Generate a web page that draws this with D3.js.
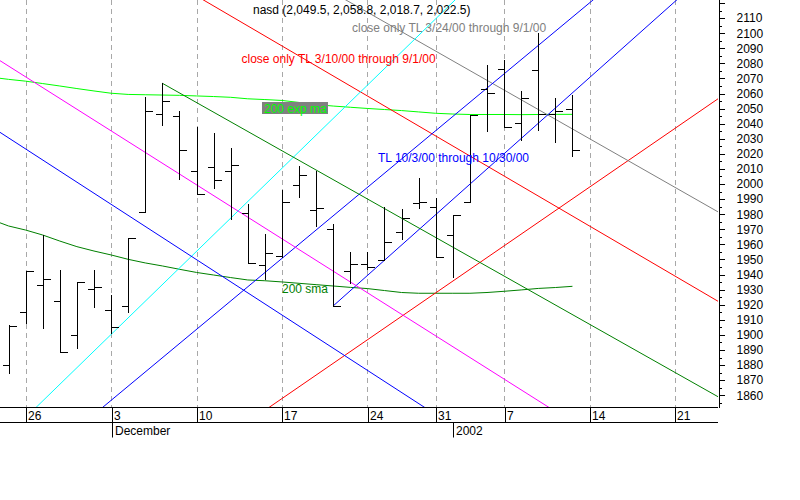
<!DOCTYPE html>
<html><head><meta charset="utf-8">
<script src="https://cdn.jsdelivr.net/npm/d3@7"></script>
<style>
body{margin:0;background:#fff}
svg{display:block}
text{font-family:Arial,"Liberation Sans",sans-serif;font-size:12px}
</style>
</head><body><svg id="c" width="800" height="500"></svg>
<script>
// ---------- data ----------
const days = ["2001-11-21","2001-11-23","2001-11-26","2001-11-27","2001-11-28","2001-11-29","2001-11-30",
"2001-12-03","2001-12-04","2001-12-05","2001-12-06","2001-12-07","2001-12-10","2001-12-11","2001-12-12","2001-12-13","2001-12-14",
"2001-12-17","2001-12-18","2001-12-19","2001-12-20","2001-12-21","2001-12-24","2001-12-26","2001-12-27","2001-12-28","2001-12-31",
"2002-01-02","2002-01-03","2002-01-04","2002-01-07","2002-01-08","2002-01-09","2002-01-10","2002-01-11",
"2002-01-14","2002-01-15","2002-01-16","2002-01-17","2002-01-18","2002-01-21","2002-01-22","2002-01-23","2002-01-24","2002-01-25"];

const barDates = days.slice(1, 35);
const opens  = [1880.0,1915.4,1933.1,1922.7,1899.7,1930.2,1916.5,1919.2,1981.3,2046.4,2044.9,2008.6,2011.1,2008.6,1980.6,1946.3,1952.3,1999.4,1982.6,1970.0,1942.4,1947.0,1949.6,1968.4,1987.2,1985.0,1966.0,1987.9,2062.8,2076.3,2040.3,2075.6,2046.2,2049.5];
const highs  = [1906.6,1942.4,1966.2,1943.0,1934.9,1943.0,1926.4,1964.0,2057.9,2066.8,2048.2,2037.6,2033.8,2023.7,1986.8,1966.9,1996.0,2011.9,2008.8,1973.5,1955.1,1955.1,1984.6,1983.3,2003.8,1990.5,1979.5,2045.8,2078.9,2082.2,2061.7,2099.9,2056.8,2058.8];
const lows   = [1874.9,1908.1,1904.4,1888.5,1891.1,1918.3,1901.1,1915.4,1981.3,2038.9,2003.5,1993.2,1997.2,1976.8,1947.5,1936.9,1951.8,1991.6,1972.2,1919.2,1934.2,1943.7,1949.6,1963.4,1983.9,1951.4,1938.2,1987.9,2035.4,2037.6,2029.2,2035.8,2027.7,2018.7];
const closes = [1905.9,1942.4,1937.1,1888.5,1934.9,1931.5,1905.4,1964.0,2048.2,2054.8,2022.4,1993.2,2002.7,2012.4,1947.5,1954.1,1988.3,2006.0,1983.9,1919.2,1946.8,1945.2,1961.8,1977.3,1988.3,1951.4,1979.5,2045.8,2060.5,2037.6,2056.8,2046.2,2048.4,2022.5];

const maDates = days.slice(0, 35);
const ema200 = [2070.8,2069.4,2068.2,2066.6,2065.0,2063.3,2061.7,2060.2,2059.4,2059.2,2059.0,2058.8,2058.4,2058.0,2057.5,2056.5,2056.0,2055.4,2054.1,2052.7,2051.7,2050.9,2050.1,2049.4,2048.7,2047.8,2046.9,2046.4,2046.1,2046.1,2046.1,2046.0,2046.1,2046.2,2046.2];
const sma200 = [1976.4,1972.2,1969.5,1966.2,1962.2,1958.5,1955.6,1953.0,1950.1,1947.7,1945.7,1943.5,1941.4,1939.7,1938.0,1936.4,1935.9,1935.1,1934.2,1933.3,1932.4,1931.5,1930.7,1929.4,1928.1,1927.6,1927.6,1927.6,1927.6,1928.1,1928.9,1929.8,1930.8,1931.4,1932.2];

// trendlines: anchor dates / values; ray = starts at first anchor
const tlDate1 = ["2001-12-10","2001-12-17","2001-12-24","2001-11-26","2001-11-23","2001-12-03","2001-12-20","2001-11-23","2001-12-06"];
const tlVal1  = [2124.7,1857.8,2113.9,1845.2,2030.6,1856.6,1919.2,2078.2,2066.8];
const tlDate2 = ["2002-01-21","2002-01-21","2002-01-21","2002-01-02","2001-12-28","2002-01-14","2002-01-21","2002-01-09","2002-01-21"];
const tlVal2  = [1939.0,2036.9,1997.8,2120.6,1854.5,2120.1,2121.0,1856.4,1875.1];
const tlRay   = [false,false,false,false,false,false,true,false,true];

const weekTicks = ["2001-11-26","2001-12-03","2001-12-10","2001-12-17","2001-12-24","2001-12-31","2002-01-07","2002-01-14","2002-01-21"];
const weekLabels = ["26","3","10","17","24","31","7","14","21"];
const monthTicks = ["2001-12-03","2002-01-02"];
const monthLabels = ["December","2002"];

const title = "nasd (2,049.5, 2,058.8, 2,018.7, 2,022.5)";
const annotations = ["close only TL 3/24/00 through 9/1/00","close only TL 3/10/00 through 9/1/00","TL 10/3/00 through 10/30/00","200 exp ma","200 sma"];

// ---------- layout ----------
const W = 718, H = 407;
const svg = d3.select("#c");
const pos = d => days.indexOf(d);
const x = d3.scaleLinear().domain([0.5, 42.5]).range([0, 717.7]);
const y = d3.scaleLinear().domain([1852, 2122]).range([407.3, 0]);
const cr = v => Math.round(v) + 0.5;

svg.append("defs").append("clipPath").attr("id","pc")
  .append("rect").attr("x",0).attr("y",0).attr("width",W).attr("height",H);

const plot = svg.append("g").attr("clip-path","url(#pc)");

// vertical dashed grid
plot.selectAll("line.grid").data(weekTicks).join("line")
  .attr("x1", d => cr(x(pos(d)))).attr("x2", d => cr(x(pos(d))))
  .attr("y1", 0).attr("y2", H)
  .attr("stroke", "#a8a8a8").attr("stroke-dasharray","5,4").attr("shape-rendering","crispEdges");

// moving averages
const lineGen = d3.line().x(d => x(pos(d[0]))).y(d => y(d[1]));
plot.append("path").datum(maDates.map((d,i)=>[d, sma200[i]]))
  .attr("d", lineGen).attr("fill","none").attr("stroke","#008000").attr("stroke-width",1);
plot.append("path").datum(maDates.map((d,i)=>[d, ema200[i]]))
  .attr("d", lineGen).attr("fill","none").attr("stroke","#00ff00").attr("stroke-width",1);

// trendlines
const tlColors = ["#ff0000","#ff0000","#808080","#00ffff","#0000ff","#0000ff","#0000ff","#ff00ff","#008000"];
tlDate1.forEach((d1, i) => {
  const p1 = pos(d1), p2 = pos(tlDate2[i]);
  const s = (tlVal2[i] - tlVal1[i]) / (p2 - p1);
  const pa = tlRay[i] ? p1 : -5, pb = 50;
  plot.append("line")
    .attr("x1", x(pa)).attr("y1", y(tlVal1[i] + s*(pa - p1)))
    .attr("x2", x(pb)).attr("y2", y(tlVal1[i] + s*(pb - p1)))
    .attr("stroke", tlColors[i]).attr("stroke-width", 1);
});

// OHLC bars
const bars = plot.append("g").attr("stroke","#000").attr("stroke-width",1).attr("shape-rendering","crispEdges");
barDates.forEach((d, i) => {
  const cx = cr(x(pos(d)));
  bars.append("line").attr("x1",cx).attr("x2",cx).attr("y1",Math.round(y(highs[i]))).attr("y2",Math.round(y(lows[i]))+1);
  bars.append("line").attr("x1",cx-7).attr("x2",cx).attr("y1",cr(y(opens[i]))).attr("y2",cr(y(opens[i])));
  bars.append("line").attr("x1",cx).attr("x2",cx+7).attr("y1",cr(y(closes[i]))).attr("y2",cr(y(closes[i])));
});

// annotation labels
svg.append("text").attr("x",253).attr("y",14).attr("fill","#000").text(title);
svg.append("text").attr("x",352).attr("y",32).attr("fill","#808080").text(annotations[0]);
svg.append("text").attr("x",241.5).attr("y",62.5).attr("fill","#ff0000").text(annotations[1]);
svg.append("text").attr("x",378).attr("y",162).attr("fill","#0000ff").text(annotations[2]);
svg.append("rect").attr("x",262).attr("y",102).attr("width",66).attr("height",12).attr("fill","#808080");
svg.append("text").attr("x",264).attr("y",112.5).attr("fill","#00ff00").text(annotations[3]);
svg.append("text").attr("x",282).attr("y",293).attr("fill","#008000").text(annotations[4]);

// right y axis
const yAx = svg.append("g").attr("transform","translate(718.5,0)");
yAx.call(d3.axisRight(y).tickValues(d3.range(1855, 2121, 10)).tickSize(3).tickFormat(""));
const yAx2 = svg.append("g").attr("transform","translate(718.5,0)");
yAx2.call(d3.axisRight(y).tickValues(d3.range(1860, 2121, 10)).tickSize(6).tickSizeOuter(0).tickPadding(12)
  .tickFormat(v => v <= 2110 ? String(v) : ""));
[yAx, yAx2].forEach(g => {
  g.selectAll("line").attr("stroke","#000").attr("shape-rendering","crispEdges");
  g.select(".domain").attr("stroke","#000").attr("d","M0.5,0V407.5").attr("shape-rendering","crispEdges");
  g.selectAll("text").attr("fill","#000").style("font-size","12px").style("font-family","Arial, 'Liberation Sans', sans-serif");
});

// bottom axis rows
svg.append("line").attr("x1",0).attr("x2",718).attr("y1",407.5).attr("y2",407.5).attr("stroke","#000");
svg.append("line").attr("x1",0).attr("x2",718).attr("y1",422.5).attr("y2",422.5).attr("stroke","#000");
const xAx = svg.append("g").attr("transform","translate(0,407.5)");
xAx.call(d3.axisBottom(x).tickValues(weekTicks.map(pos)).tickSize(15).tickSizeOuter(0)
  .tickFormat((v,i) => weekLabels[i]));
xAx.select(".domain").remove();
xAx.selectAll(".tick line").attr("stroke","#000").attr("x1",0.5).attr("x2",0.5);
xAx.selectAll(".tick").attr("transform", function(){ const t=d3.select(this).attr("transform"); const m=/translate\(([-\d.]+)/.exec(t); return `translate(${Math.round(+m[1])},0)`; });
xAx.selectAll(".tick text").attr("text-anchor","start").attr("x",2).attr("y",4).attr("dy","0.71em")
  .attr("fill","#000").style("font-size","12px").style("font-family","Arial, 'Liberation Sans', sans-serif");

const mAx = svg.append("g").attr("transform","translate(0,422.5)");
mAx.call(d3.axisBottom(x).tickValues(monthTicks.map(pos)).tickSize(15).tickSizeOuter(0)
  .tickFormat((v,i) => monthLabels[i]));
mAx.select(".domain").remove();
mAx.selectAll(".tick").attr("transform", function(){ const t=d3.select(this).attr("transform"); const m=/translate\(([-\d.]+)/.exec(t); return `translate(${Math.round(+m[1])},0)`; });
mAx.selectAll(".tick line").attr("stroke","#000").attr("x1",0.5).attr("x2",0.5);
mAx.selectAll(".tick text").attr("text-anchor","start").attr("x",3).attr("y",4).attr("dy","0.71em")
  .attr("fill","#000").style("font-size","12px").style("font-family","Arial, 'Liberation Sans', sans-serif");
</script>
</body></html>
